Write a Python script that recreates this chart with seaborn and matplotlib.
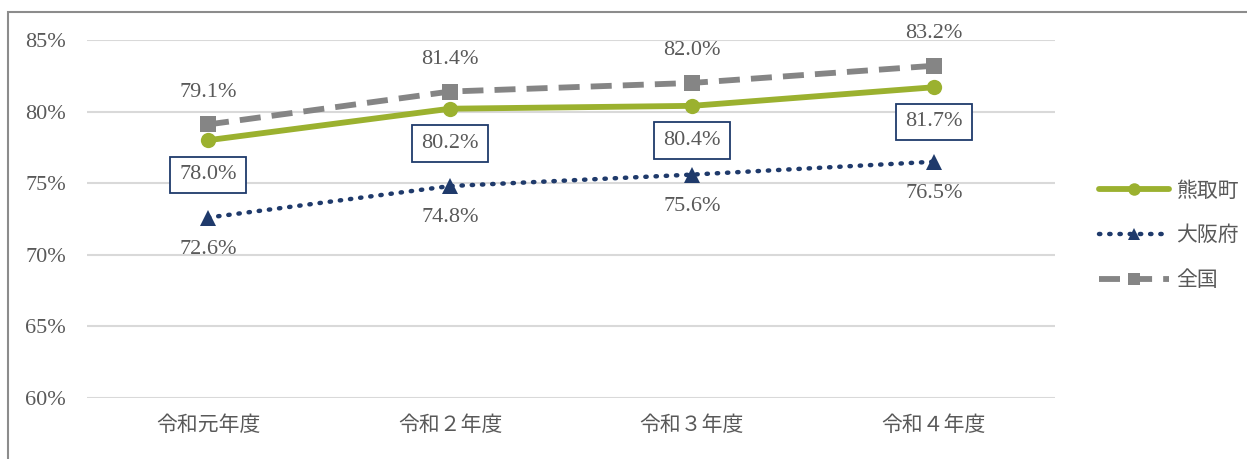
import matplotlib
matplotlib.use("Agg")
import matplotlib.pyplot as plt
import seaborn as sns
import pandas as pd
from matplotlib.lines import Line2D
from matplotlib.patches import Rectangle

categories = ["令和元年度", "令和２年度", "令和３年度", "令和４年度"]
kumatori = [78.0, 80.2, 80.4, 81.7]
osaka = [72.6, 74.8, 75.6, 76.5]
zenkoku = [79.1, 81.4, 82.0, 83.2]
series_names = ["熊取町", "大阪府", "全国"]
yticks = [60, 65, 70, 75, 80, 85]

sns.set_theme(style="white")
plt.rcParams['font.family'] = ['Liberation Serif', 'Noto Sans CJK JP']

fig = plt.figure(figsize=(12.47, 4.59), dpi=100)
ax = fig.add_axes([0.0698, 0.1329, 0.846 - 0.0698, 0.9129 - 0.1329])

df = pd.DataFrame({
    "cat": categories * 3,
    "x": list(range(4)) * 3,
    "val": kumatori + osaka + zenkoku,
    "series": [series_names[0]] * 4 + [series_names[1]] * 4 + [series_names[2]] * 4,
})

green = "#9BB12F"
navy = "#1F3A6B"
gray = "#858585"
txt = "#595959"

gdash = (0, (3.6, 1.9))
ndot = (0, (0.3, 2.0))

sns.lineplot(data=df[df.series == "全国"], x="x", y="val", ax=ax, color=gray,
             lw=4.2, linestyle=gdash, marker="s", markersize=11, markeredgewidth=0, legend=False, zorder=3)
sns.lineplot(data=df[df.series == "熊取町"], x="x", y="val", ax=ax, color=green,
             lw=4.2, marker="o", markersize=11, markeredgewidth=0, legend=False, zorder=4)
sns.lineplot(data=df[df.series == "大阪府"], x="x", y="val", ax=ax, color=navy,
             lw=3.2, linestyle=ndot, dash_capstyle="round", marker="^", markersize=11,
             markeredgewidth=0, legend=False, zorder=3)

ax.set_xlim(-0.5, 3.5)
ax.set_ylim(60, 85)
ax.set_yticks(yticks)
ax.set_yticklabels([f"{t}%" for t in yticks])
ax.set_xticks(range(4))
ax.set_xticklabels(categories)
ax.tick_params(axis="both", length=0, labelcolor=txt)
ax.tick_params(axis="x", pad=13, labelsize=15)
ax.tick_params(axis="y", pad=15, labelsize=16)
ax.yaxis.grid(True, color="#D9D9D9", lw=1.5)
ax.set_axisbelow(True)
for s in ax.spines.values():
    s.set_visible(False)
ax.set_xlabel("")
ax.set_ylabel("")

fs = 16
for i, v in enumerate(zenkoku):
    ax.annotate(f"{v:.1f}%", (i, v), xytext=(0, 23), textcoords="offset points",
                ha="center", va="center", fontsize=fs, color=txt)
for i, v in enumerate(kumatori):
    ax.annotate(f"{v:.1f}%", (i, v), xytext=(0, -25), textcoords="offset points",
                ha="center", va="center", fontsize=fs, color=txt,
                bbox=dict(boxstyle="square,pad=0.4", fc="white", ec=navy, lw=1.3))
for i, v in enumerate(osaka):
    ax.annotate(f"{v:.1f}%", (i, v), xytext=(0, -23), textcoords="offset points",
                ha="center", va="center", fontsize=fs, color=txt)

handles = [
    Line2D([], [], color=green, lw=4.2, marker="o", markersize=9, markeredgewidth=0),
    Line2D([], [], color=navy, lw=3.2, linestyle=ndot, dash_capstyle="round",
           marker="^", markersize=9, markeredgewidth=0),
    Line2D([], [], color=gray, lw=4.2, linestyle=gdash, marker="s", markersize=9, markeredgewidth=0),
]
leg = fig.legend(handles, series_names, loc="center left", bbox_to_anchor=(0.866, 0.485),
                 frameon=False, fontsize=15, handlelength=3.4, labelspacing=1.2, handletextpad=0.3)
for t in leg.get_texts():
    t.set_color(txt)

fig.add_artist(Rectangle((8 / 1247, -0.05), 1.1, 1 - 12 / 459 + 0.05, transform=fig.transFigure,
                         fill=False, ec="#8C8C8C", lw=1.5))

fig.savefig("out.png", dpi=100)
